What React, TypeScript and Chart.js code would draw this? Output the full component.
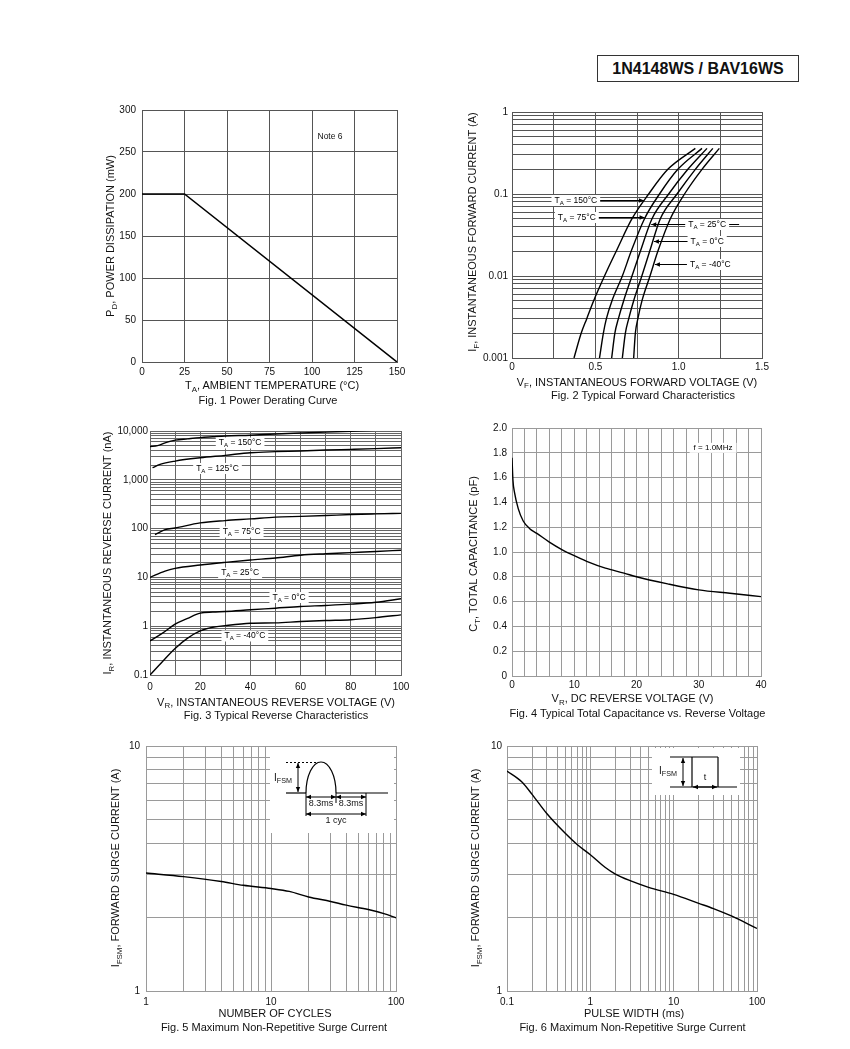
import React, { useEffect, useRef } from 'react';
import { Chart, registerables } from 'chart.js';

Chart.register(...registerables);

const FONT = '"Liberation Sans", Arial, Helvetica, sans-serif';
const PAD_L = 50, PAD_T = 12, PAD_R = 22, PAD_B = 22;

// ---------- Fig. 1 Power derating ----------
const fig1TempC = [0, 25, 150];
const fig1PowerMw = [200, 200, 0];

// ---------- Fig. 2 Forward characteristics (IF in A, VF in V) ----------
const fig2CurrentA = [0.001, 0.002, 0.003, 0.005, 0.01, 0.02, 0.05, 0.1, 0.2, 0.36];
const fig2V150 = [0.372, 0.415, 0.448, 0.49, 0.555, 0.625, 0.72, 0.82, 0.935, 1.1];
const fig2V75 = [0.525, 0.548, 0.566, 0.6, 0.662, 0.715, 0.795, 0.885, 0.995, 1.14];
const fig2V25 = [0.598, 0.617, 0.638, 0.67, 0.72, 0.77, 0.84, 0.94, 1.055, 1.17];
const fig2V0 = [0.662, 0.68, 0.7, 0.73, 0.779, 0.826, 0.89, 0.99, 1.1, 1.205];
const fig2Vm40 = [0.73, 0.74, 0.755, 0.78, 0.828, 0.875, 0.95, 1.035, 1.14, 1.244];
const fig2Curves = [fig2V150, fig2V75, fig2V25, fig2V0, fig2Vm40];

// ---------- Fig. 3 Reverse characteristics (VR in V, IR in nA) ----------
const fig3V150 = [0, 3, 6, 10, 15, 20, 25, 30, 40, 50, 60, 70, 80, 90, 100];
const fig3I150 = [4800, 5000, 5700, 6500, 6900, 7300, 7600, 7900, 8200, 8700, 9100, 9500, 9900, 10300, 10800];
const fig3V125 = [1, 4, 10, 20, 30, 40, 50, 60, 70, 80, 90, 100];
const fig3I125 = [1770, 2070, 2420, 2830, 3170, 3590, 3770, 3890, 4070, 4200, 4350, 4550];
const fig3V75 = [2, 6, 10, 20, 30, 40, 50, 60, 70, 80, 90, 100];
const fig3I75 = [75, 95, 103, 131, 146, 158, 172, 178, 185, 194, 200, 205];
const fig3V25 = [0, 6, 10, 20, 30, 40, 50, 60, 70, 80, 90, 100];
const fig3I25 = [10, 13.5, 15.3, 17.9, 20.3, 22.7, 25, 28.5, 30.5, 32.2, 34, 36];
const fig3V0 = [0, 5, 10, 15, 20, 25, 30, 40, 50, 60, 70, 80, 90, 100];
const fig3I0 = [0.5, 0.72, 1.1, 1.45, 1.85, 1.95, 2.0, 2.17, 2.34, 2.53, 2.66, 2.83, 3.1, 3.65];
const fig3Vm40 = [0, 5, 10, 15, 20, 25, 30, 40, 50, 60, 70, 80, 90, 100];
const fig3Im40 = [0.1, 0.19, 0.35, 0.57, 0.8, 0.95, 1.03, 1.15, 1.17, 1.25, 1.31, 1.36, 1.5, 1.71];

// ---------- Fig. 4 Capacitance ----------
const fig4VoltV = [0, 0.15, 0.4, 1, 1.8, 2.8, 4, 6, 8, 10, 12, 15, 18, 20, 25, 30, 35, 40];
const fig4CapPf = [1.76, 1.58, 1.48, 1.35, 1.25, 1.19, 1.15, 1.08, 1.02, 0.97, 0.925, 0.87, 0.83, 0.8, 0.743, 0.695, 0.667, 0.64];

// ---------- Fig. 5 Surge vs cycles ----------
const fig5Cycles = [1, 2, 4, 6, 10, 14, 20, 30, 40, 60, 80, 100];
const fig5SurgeA = [3.03, 2.93, 2.8, 2.7, 2.62, 2.55, 2.42, 2.32, 2.24, 2.15, 2.07, 1.99];

// ---------- Fig. 6 Surge vs pulse width ----------
const fig6WidthMs = [0.1, 0.15, 0.2, 0.3, 0.5, 0.7, 1, 1.5, 2, 3, 5, 10, 20, 30, 50, 100];
const fig6SurgeA = [7.9, 7.15, 6.35, 5.3, 4.4, 3.95, 3.6, 3.2, 3.0, 2.82, 2.65, 2.48, 2.28, 2.17, 2.02, 1.8];

// ---------- helpers ----------
function logGrid(e0: number, e1: number): number[] {
  const out: number[] = [];
  for (let e = e0; e < e1; e++) for (let m = 1; m <= 9; m++) out.push(parseFloat((m * Math.pow(10, e)).toPrecision(4)));
  out.push(parseFloat(Math.pow(10, e1).toPrecision(4)));
  return out;
}
function linGrid(min: number, max: number, step: number): number[] {
  const out: number[] = [];
  const n = Math.round((max - min) / step);
  for (let i = 0; i <= n; i++) out.push(parseFloat((min + i * step).toFixed(6)));
  return out;
}
const isDecade = (v: number) => Math.abs(Math.log10(v) - Math.round(Math.log10(v))) < 1e-6;
const near = (v: number, step: number) => Math.abs(v / step - Math.round(v / step)) < 1e-6;

function axis(o: { type: 'linear' | 'logarithmic'; min: number; max: number; grid: number[]; label: (v: number) => string; color: string; pad: number }) {
  return {
    type: o.type,
    min: o.min,
    max: o.max,
    afterBuildTicks: (s: any) => {
      s.ticks = o.grid.map((v) => ({ value: v }));
    },
    ticks: {
      autoSkip: false,
      maxRotation: 0,
      minRotation: 0,
      padding: o.pad,
      color: '#111',
      font: { family: FONT, size: 10 },
      callback: (v: any) => o.label(Number(v)),
    },
    grid: { color: o.color, lineWidth: 1, drawTicks: false },
    border: { display: true, color: o.color, width: 1 },
  };
}

function series(xs: number[], ys: number[], extra: any = {}) {
  return {
    data: xs.map((x, i) => ({ x, y: ys[i] })),
    borderColor: '#000',
    borderWidth: 1.4,
    pointRadius: 0,
    fill: false,
    cubicInterpolationMode: 'monotone',
    ...extra,
  };
}

type Part = [string, boolean?];
const cf = (size: number) => `${size}px ${FONT}`;
function richWidth(ctx: CanvasRenderingContext2D, parts: Part[], size: number) {
  let w = 0;
  for (const [t, sub] of parts) {
    ctx.font = cf(sub ? size * 0.72 : size);
    w += ctx.measureText(t).width;
  }
  return w;
}
function drawRich(ctx: CanvasRenderingContext2D, parts: Part[], x: number, y: number, size: number, align: 'left' | 'center' | 'right' = 'center') {
  const w = richWidth(ctx, parts, size);
  let cx = align === 'center' ? x - w / 2 : align === 'right' ? x - w : x;
  ctx.textAlign = 'left';
  ctx.textBaseline = 'middle';
  for (const [t, sub] of parts) {
    ctx.font = cf(sub ? size * 0.72 : size);
    ctx.fillText(t, cx, sub ? y + size * 0.3 : y);
    cx += ctx.measureText(t).width;
  }
}
const ta = (t: string): Part[] => [['T'], ['A', true], [` = ${t}°C`]];
function boxLabel(ctx: CanvasRenderingContext2D, parts: Part[], cx: number, cy: number, size: number, padX: number, h: number) {
  const w = richWidth(ctx, parts, size);
  ctx.fillStyle = '#fff';
  ctx.fillRect(cx - w / 2 - padX, cy - h / 2, w + 2 * padX, h);
  ctx.fillStyle = '#000';
  drawRich(ctx, parts, cx, cy, size, 'center');
  return w + 2 * padX;
}
function seg(ctx: CanvasRenderingContext2D, x1: number, y1: number, x2: number, y2: number) {
  ctx.beginPath();
  ctx.moveTo(x1, y1);
  ctx.lineTo(x2, y2);
  ctx.stroke();
}
function head(ctx: CanvasRenderingContext2D, x1: number, y1: number, x2: number, y2: number, len = 5, half = 2.2) {
  const a = Math.atan2(y2 - y1, x2 - x1);
  ctx.beginPath();
  ctx.moveTo(x2, y2);
  ctx.lineTo(x2 - len * Math.cos(a) + half * Math.sin(a), y2 - len * Math.sin(a) - half * Math.cos(a));
  ctx.lineTo(x2 - len * Math.cos(a) - half * Math.sin(a), y2 - len * Math.sin(a) + half * Math.cos(a));
  ctx.closePath();
  ctx.fill();
}
function arrow(ctx: CanvasRenderingContext2D, x1: number, y1: number, x2: number, y2: number) {
  seg(ctx, x1, y1, x2, y2);
  head(ctx, x1, y1, x2, y2);
}
function dbl(ctx: CanvasRenderingContext2D, x1: number, y1: number, x2: number, y2: number) {
  seg(ctx, x1, y1, x2, y2);
  head(ctx, x1, y1, x2, y2);
  head(ctx, x2, y2, x1, y1);
}
function interpLog(xs: number[], ys: number[], v: number) {
  for (let k = 0; k < xs.length - 1; k++) {
    if (v >= xs[k] && v <= xs[k + 1]) {
      const f = (Math.log10(v) - Math.log10(xs[k])) / (Math.log10(xs[k + 1]) - Math.log10(xs[k]));
      return ys[k] + f * (ys[k + 1] - ys[k]);
    }
  }
  return ys[ys.length - 1];
}

// ---------- annotation drawers ----------
const fig2Notes = [
  { t: '150', v: 0.383, i: 0.0855, curve: 0, side: 'L' },
  { t: '75', v: 0.389, i: 0.0525, curve: 1, side: 'L' },
  { t: '25', v: 1.171, i: 0.0435, curve: 2, side: 'R' },
  { t: '0', v: 1.171, i: 0.0265, curve: 3, side: 'R' },
  { t: '-40', v: 1.19, i: 0.01416, curve: 4, side: 'R' },
];
const fig3Notes: [string, number, number][] = [
  ['150', 35.9, 5680],
  ['125', 26.9, 1706],
  ['75', 36.5, 85],
  ['25', 35.9, 12.3],
  ['0', 55.4, 3.87],
  ['-40', 37.8, 0.63],
];

function drawFig1(chart: any) {
  const { ctx, scales } = chart;
  ctx.save();
  ctx.fillStyle = '#111';
  ctx.font = cf(8.5);
  ctx.textAlign = 'center';
  ctx.textBaseline = 'middle';
  ctx.fillText('Note 6', scales.x.getPixelForValue(110.6), scales.y.getPixelForValue(268));
  ctx.restore();
}
function drawFig2(chart: any) {
  const { ctx, scales } = chart;
  ctx.save();
  ctx.strokeStyle = '#000';
  ctx.lineWidth = 1;
  for (const n of fig2Notes) {
    const py = Math.round(scales.y.getPixelForValue(n.i)) + 0.5;
    const cx = scales.x.getPixelForValue(n.v);
    const w = boxLabel(ctx, ta(n.t), cx, py, 8.5, 3, 11);
    const tip = scales.x.getPixelForValue(interpLog(fig2CurrentA, fig2Curves[n.curve], n.i));
    ctx.fillStyle = '#000';
    if (n.side === 'L') arrow(ctx, cx + w / 2, py, tip - 1, py);
    else {
      arrow(ctx, cx - w / 2, py, tip + 1, py);
      if (n.t === '25') seg(ctx, cx + w / 2, py, cx + w / 2 + 10, py);
    }
  }
  ctx.restore();
}
function drawFig3(chart: any) {
  const { ctx, scales } = chart;
  ctx.save();
  for (const [t, v, i] of fig3Notes) {
    boxLabel(ctx, ta(t), scales.x.getPixelForValue(v), scales.y.getPixelForValue(i), 8.5, 3, 11);
  }
  ctx.restore();
}
function drawFig4(chart: any) {
  const { ctx, scales } = chart;
  ctx.save();
  boxLabel(ctx, [['f = 1.0MHz']], scales.x.getPixelForValue(32.3), scales.y.getPixelForValue(1.84), 8, 4, 10);
  ctx.restore();
}
function drawFig5(chart: any) {
  const { ctx, chartArea: a } = chart;
  const X = (d: number) => a.left + d;
  const Y = (d: number) => a.top + d;
  ctx.save();
  ctx.fillStyle = '#fff';
  ctx.fillRect(X(124), Y(1), 124, 86);
  ctx.strokeStyle = '#000';
  ctx.fillStyle = '#000';
  ctx.lineWidth = 1.2;
  seg(ctx, X(140), Y(47), X(160), Y(47));
  seg(ctx, X(190), Y(47), X(242), Y(47));
  ctx.beginPath();
  ctx.ellipse(X(175), Y(47), 15, 31, 0, Math.PI, 2 * Math.PI);
  ctx.stroke();
  ctx.lineWidth = 1;
  ctx.setLineDash([2, 2]);
  seg(ctx, X(140), Y(16.5), X(172), Y(16.5));
  ctx.setLineDash([]);
  dbl(ctx, X(152), Y(17), X(152), Y(46));
  seg(ctx, X(160), Y(47), X(160), Y(70));
  seg(ctx, X(190), Y(47), X(190), Y(57));
  seg(ctx, X(220), Y(47), X(220), Y(70));
  dbl(ctx, X(160), Y(51), X(190), Y(51));
  dbl(ctx, X(190), Y(51), X(220), Y(51));
  dbl(ctx, X(160), Y(68), X(220), Y(68));
  ctx.fillStyle = '#111';
  drawRich(ctx, [['8.3ms']], X(175), Y(58), 9);
  drawRich(ctx, [['8.3ms']], X(205), Y(58), 9);
  drawRich(ctx, [['1 cyc']], X(190), Y(75), 9);
  drawRich(ctx, [['I'], ['FSM', true]], X(146), Y(32), 10, 'right');
  ctx.restore();
}
function drawFig6(chart: any) {
  const { ctx, chartArea: a } = chart;
  const X = (d: number) => a.left + d;
  const Y = (d: number) => a.top + d;
  ctx.save();
  ctx.fillStyle = '#fff';
  ctx.fillRect(X(145), Y(2), 88, 47);
  ctx.strokeStyle = '#000';
  ctx.fillStyle = '#000';
  ctx.lineWidth = 1.2;
  seg(ctx, X(163), Y(11), X(211), Y(11));
  seg(ctx, X(185), Y(11), X(185), Y(41));
  seg(ctx, X(211), Y(11), X(211), Y(41));
  seg(ctx, X(163), Y(41), X(230), Y(41));
  ctx.lineWidth = 1;
  dbl(ctx, X(176), Y(12), X(176), Y(40));
  dbl(ctx, X(186), Y(41), X(210), Y(41));
  ctx.fillStyle = '#111';
  drawRich(ctx, [['I'], ['FSM', true]], X(170), Y(25), 10, 'right');
  drawRich(ctx, [['t']], X(198), Y(32), 9);
  ctx.restore();
}

// ---------- chart specs ----------
type Spec = {
  id: string;
  left: number;
  top: number;
  width: number;
  height: number;
  make: () => { x: any; y: any; datasets: any[] };
  draw?: (c: any) => void;
};

const C1 = '#555', C2 = '#555', C3 = '#666', C4 = '#9a9a9a', C5 = '#9a9a9a';

const specs: Spec[] = [
  {
    id: 'f1', left: 142, top: 110, width: 255, height: 252,
    make: () => ({
      x: axis({ type: 'linear', min: 0, max: 150, grid: linGrid(0, 150, 25), label: (v) => String(v), color: C1, pad: 4 }),
      y: axis({ type: 'linear', min: 0, max: 300, grid: linGrid(0, 300, 50), label: (v) => String(v), color: C1, pad: 6 }),
      datasets: [series(fig1TempC, fig1PowerMw, { cubicInterpolationMode: 'default', tension: 0, borderWidth: 1.5 })],
    }),
    draw: drawFig1,
  },
  {
    id: 'f2', left: 512, top: 112, width: 250, height: 246,
    make: () => ({
      x: axis({ type: 'linear', min: 0, max: 1.5, grid: linGrid(0, 1.5, 0.25), label: (v) => (near(v, 0.5) ? (v === 0 ? '0' : v.toFixed(1)) : ''), color: C2, pad: 3 }),
      y: axis({ type: 'logarithmic', min: 0.001, max: 1, grid: logGrid(-3, 0), label: (v) => (isDecade(v) ? String(v) : ''), color: C2, pad: 4 }),
      datasets: fig2Curves.map((vs) => series(vs, fig2CurrentA)),
    }),
    draw: drawFig2,
  },
  {
    id: 'f3', left: 150, top: 431, width: 251, height: 244,
    make: () => ({
      x: axis({ type: 'linear', min: 0, max: 100, grid: linGrid(0, 100, 10), label: (v) => (near(v, 20) ? String(v) : ''), color: C3, pad: 6 }),
      y: axis({ type: 'logarithmic', min: 0.1, max: 10000, grid: logGrid(-1, 4), label: (v) => (isDecade(v) ? v.toLocaleString('en-US') : ''), color: C3, pad: 2 }),
      datasets: [
        series(fig3V150, fig3I150),
        series(fig3V125, fig3I125),
        series(fig3V75, fig3I75),
        series(fig3V25, fig3I25),
        series(fig3V0, fig3I0),
        series(fig3Vm40, fig3Im40),
      ],
    }),
    draw: drawFig3,
  },
  {
    id: 'f4', left: 512, top: 428, width: 249, height: 248,
    make: () => ({
      x: axis({ type: 'linear', min: 0, max: 40, grid: linGrid(0, 40, 2), label: (v) => (near(v, 10) ? String(v) : ''), color: C4, pad: 3 }),
      y: axis({ type: 'linear', min: 0, max: 2, grid: linGrid(0, 2, 0.2), label: (v) => (v === 0 ? '0' : v.toFixed(1)), color: C4, pad: 5 }),
      datasets: [series(fig4VoltV, fig4CapPf)],
    }),
    draw: drawFig4,
  },
  {
    id: 'f5', left: 146, top: 746, width: 250, height: 245,
    make: () => ({
      x: axis({ type: 'logarithmic', min: 1, max: 100, grid: logGrid(0, 2), label: (v) => (isDecade(v) ? String(v) : ''), color: C5, pad: 5 }),
      y: axis({ type: 'logarithmic', min: 1, max: 10, grid: logGrid(0, 1), label: (v) => (isDecade(v) ? String(v) : ''), color: C5, pad: 6 }),
      datasets: [series(fig5Cycles, fig5SurgeA)],
    }),
    draw: drawFig5,
  },
  {
    id: 'f6', left: 507, top: 746, width: 250, height: 245,
    make: () => ({
      x: axis({ type: 'logarithmic', min: 0.1, max: 100, grid: logGrid(-1, 2), label: (v) => (isDecade(v) ? String(v) : ''), color: C5, pad: 5 }),
      y: axis({ type: 'logarithmic', min: 1, max: 10, grid: logGrid(0, 1), label: (v) => (isDecade(v) ? String(v) : ''), color: C5, pad: 5 }),
      datasets: [series(fig6WidthMs, fig6SurgeA)],
    }),
    draw: drawFig6,
  },
];

function Plot({ spec }: { spec: Spec }) {
  const ref = useRef<HTMLCanvasElement>(null);
  const W = spec.width + PAD_L + PAD_R;
  const H = spec.height + PAD_T + PAD_B;
  useEffect(() => {
    const canvas = ref.current;
    if (!canvas) return;
    const m = spec.make();
    const chart = new Chart(canvas, {
      type: 'line',
      data: { datasets: m.datasets },
      options: {
        animation: false,
        responsive: false,
        maintainAspectRatio: false,
        events: [],
        layout: { padding: { left: 0, top: PAD_T, right: PAD_R, bottom: 0 } },
        plugins: { legend: { display: false }, tooltip: { enabled: false } },
        scales: {
          x: { ...m.x, afterFit: (s: any) => { s.height = PAD_B; } },
          y: { ...m.y, afterFit: (s: any) => { s.width = PAD_L; } },
        },
      } as any,
      plugins: spec.draw ? [{ id: 'notes_' + spec.id, afterDatasetsDraw: (c: any) => spec.draw!(c) }] : [],
    });
    return () => chart.destroy();
  }, []);
  return (
    <canvas
      ref={ref}
      width={W}
      height={H}
      style={{ position: 'absolute', left: spec.left - PAD_L, top: spec.top - PAD_T, width: W, height: H }}
    />
  );
}

const Sub = ({ children }: { children: React.ReactNode }) => (
  <span style={{ fontSize: '0.72em', position: 'relative', top: '0.32em' }}>{children}</span>
);

function Txt({ x, y, rot, size = 11, children }: { x: number; y: number; rot?: boolean; size?: number; children: React.ReactNode }) {
  return (
    <div
      style={{
        position: 'absolute',
        left: x,
        top: y,
        transform: `translate(-50%, -50%)${rot ? ' rotate(-90deg)' : ''}`,
        whiteSpace: 'nowrap',
        fontSize: size,
        lineHeight: 1,
        fontFamily: FONT,
        color: '#111',
      }}
    >
      {children}
    </div>
  );
}

export default function App() {
  return (
    <div style={{ position: 'absolute', left: 0, top: 0, width: 850, height: 1049, background: '#fff', overflow: 'hidden', fontFamily: FONT }}>
      <div
        style={{
          position: 'absolute', left: 597, top: 55, width: 202, height: 27, boxSizing: 'border-box',
          border: '1.5px solid #333', display: 'flex', alignItems: 'center', justifyContent: 'center',
          fontFamily: FONT, fontWeight: 'bold', fontSize: 16, color: '#111',
        }}
      >
        1N4148WS / BAV16WS
      </div>

      {specs.map((s) => (
        <Plot key={s.id} spec={s} />
      ))}

      {/* Fig 1 */}
      <Txt x={110} y={236} rot>P<Sub>D</Sub>, POWER DISSIPATION (mW)</Txt>
      <Txt x={272} y={385}>T<Sub>A</Sub>, AMBIENT TEMPERATURE (°C)</Txt>
      <Txt x={268} y={399.5}>Fig. 1  Power Derating Curve</Txt>

      {/* Fig 2 */}
      <Txt x={472} y={232} rot>I<Sub>F</Sub>, INSTANTANEOUS FORWARD CURRENT (A)</Txt>
      <Txt x={637} y={381.5}>V<Sub>F</Sub>, INSTANTANEOUS FORWARD VOLTAGE (V)</Txt>
      <Txt x={643} y={395}>Fig. 2  Typical Forward Characteristics</Txt>

      {/* Fig 3 */}
      <Txt x={107} y={553} rot>I<Sub>R</Sub>, INSTANTANEOUS REVERSE CURRENT (nA)</Txt>
      <Txt x={276} y={701.5}>V<Sub>R</Sub>, INSTANTANEOUS REVERSE VOLTAGE (V)</Txt>
      <Txt x={276} y={715}>Fig. 3  Typical Reverse Characteristics</Txt>

      {/* Fig 4 */}
      <Txt x={473} y={554} rot>C<Sub>T</Sub>, TOTAL CAPACITANCE (pF)</Txt>
      <Txt x={632.5} y={698}>V<Sub>R</Sub>, DC REVERSE VOLTAGE (V)</Txt>
      <Txt x={637.5} y={713}>Fig. 4 Typical Total Capacitance vs. Reverse Voltage</Txt>

      {/* Fig 5 */}
      <Txt x={115} y={868} rot>I<Sub>FSM</Sub>, FORWARD SURGE CURRENT (A)</Txt>
      <Txt x={275} y={1013}>NUMBER OF CYCLES</Txt>
      <Txt x={274} y={1027}>Fig. 5 Maximum Non-Repetitive Surge Current</Txt>

      {/* Fig 6 */}
      <Txt x={475} y={868} rot>I<Sub>FSM</Sub>, FORWARD SURGE CURRENT (A)</Txt>
      <Txt x={634} y={1013}>PULSE WIDTH (ms)</Txt>
      <Txt x={632.5} y={1027}>Fig. 6 Maximum Non-Repetitive Surge Current</Txt>
    </div>
  );
}
